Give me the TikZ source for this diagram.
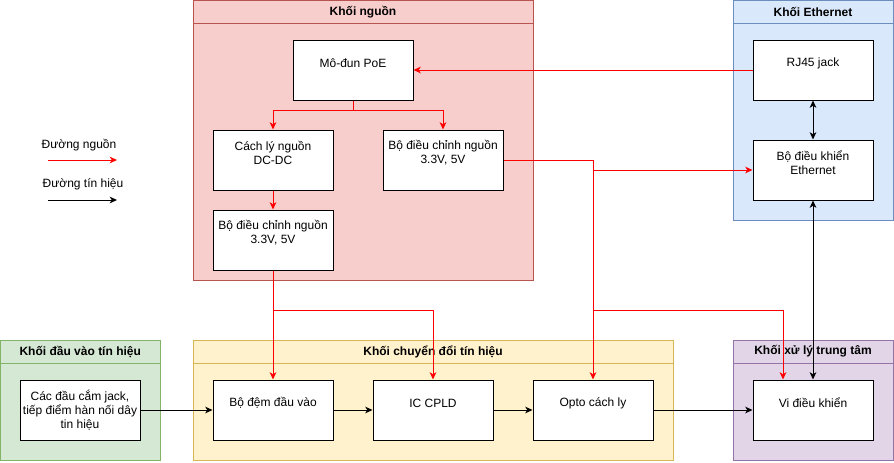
\documentclass[tikz,border=0pt]{standalone}
\usepackage{fontspec}
\setmainfont{Liberation Sans}
\usepackage{tikz}
\usetikzlibrary{arrows.meta}
\definecolor{pwrred}{HTML}{FF0000}
\definecolor{nguonfill}{HTML}{F8CECC}
\definecolor{nguonline}{HTML}{B85450}
\definecolor{ethfill}{HTML}{DAE8FC}
\definecolor{ethline}{HTML}{6C8EBF}
\definecolor{infill}{HTML}{D5E8D4}
\definecolor{inline}{HTML}{82B366}
\definecolor{convfill}{HTML}{FFF2CC}
\definecolor{convline}{HTML}{D6B656}
\definecolor{cpufill}{HTML}{E1D5E7}
\definecolor{cpuline}{HTML}{9673A6}
\tikzset{
  blk/.style={draw, fill=white, line width=0.75pt, minimum width=90pt,
    minimum height=45pt, inner sep=0pt},
  txt/.style={align=center, inner sep=0pt, font=\fontsize{9}{10.5}\selectfont},
  head/.style={inner sep=0pt, font=\fontsize{9}{10.5}\selectfont\bfseries},
  tip/.style={Stealth[length=5.5pt, width=5pt, inset=1.6pt]},
  pwr/.style={draw=pwrred, line width=0.75pt, -{Stealth[length=5.5pt, width=5pt, inset=1.6pt]}},
  pline/.style={draw=pwrred, line width=0.75pt},
  sig/.style={draw=black, line width=0.75pt, -{Stealth[length=5.5pt, width=5pt, inset=1.6pt]}},
  sigboth/.style={draw=black, line width=0.75pt,
    {Stealth[length=5.5pt, width=5pt, inset=1.6pt]}-{Stealth[length=5.5pt, width=5pt, inset=1.6pt]}},
}
\newcommand*{\BlockBox}[5]{% #1 = name, #2 = x, #3 = y, #4 = text shift, #5 = text
\node [blk] (#1) at (#2,#3) {};
\node [txt] (#1-t) at ([yshift=#4]#1.center) {#5};
}
\newcommand*{\GroupBox}[7]{% #1 = name, #2/#3 = top left, #4/#5 = bottom right, #6 = colour, #7 = title
\draw [fill=#6fill, draw=#6line, line width=0.75pt] (#2,#3) rectangle (#4,#5);
\draw [draw=#6line, line width=0.75pt] (#2,#3+23) -- (#4,#3+23);
\node [head] (#1) at ({(#2+#4)/2},#3+11.5) {#7};
}

\begin{document}
\begin{tikzpicture}[x=0.75pt, y=-0.75pt]
\useasboundingbox (0,0) rectangle (894,462);

% groups
\GroupBox{gnguon}{193}{0.5}{533}{280}{nguon}{Khối nguồn}
\GroupBox{geth}{733}{0.5}{893}{220}{eth}{Khối Ethernet}
\GroupBox{gin}{0.5}{340}{160}{460}{in}{Khối đầu vào tín hiệu}
\GroupBox{gconv}{193}{340}{673}{460}{conv}{Khối chuyển đổi tín hiệu}
\GroupBox{gcpu}{733}{340}{893}{460}{cpu}{Khối xử lý trung tâm}

% blocks
\BlockBox{poe}{353}{70}{5.25pt}{Mô-đun PoE}
\BlockBox{iso}{273}{160}{5.25pt}{Cách lý nguồn\\DC-DC}
\BlockBox{regA}{443}{160}{5.25pt}{Bộ điều chỉnh nguồn\\3.3V, 5V}
\BlockBox{regB}{273}{240}{5.25pt}{Bộ điều chỉnh nguồn\\3.3V, 5V}
\BlockBox{rj}{813}{70}{5.25pt}{RJ45 jack}
\BlockBox{ethc}{813}{170}{5.25pt}{Bộ điều khiển\\Ethernet}
\BlockBox{jack}{80}{410}{0pt}{Các đầu cắm jack,\\tiếp điểm hàn nối dây\\tin hiệu}
\BlockBox{buf}{273}{410}{5.25pt}{Bộ đệm đầu vào}
\BlockBox{cpld}{433}{410}{5.25pt}{IC CPLD}
\BlockBox{opto}{593}{410}{5.25pt}{Opto cách ly}
\BlockBox{mcu}{813}{410}{5.25pt}{Vi điều khiển}

% legend
\node [txt] (leg1) at (79,145) {Đường nguồn};
\node [txt] (leg2) at (83,184) {Đường tín hiệu};
\coordinate (la1) at (48,160);
\coordinate (lb1) at (117,160);
\coordinate (la2) at (48,200);
\coordinate (lb2) at (117,200);
\draw [pwr] (la1) -- (lb1);
\draw [sig] (la2) -- (lb2);

% power lines
\coordinate (j1) at (593,160);
\coordinate (j2) at (593,310);
\coordinate (j3) at (273,310);
\draw [pwr] (rj.west) -- (poe.east);
\draw [pwr] (poe.south) -- ++(0,10) -| (iso.north);
\draw [pwr] (poe.south) -- ++(0,10) -| (regA.north);
\draw [pwr] (iso.south) -- (regB.north);
\draw [pline] (regA.east) -- (j1);
\draw [pwr] (j1) |- (ethc.west);
\draw [pwr] (j1) -- (opto.north);
\draw [pwr] (j2) -| ([xshift=-22.5pt]mcu.north);
\draw [pwr] (regB.south) -- (buf.north);
\draw [pwr] (j3) -| (cpld.north);

% signal lines
\draw [sigboth] (rj.south) -- (ethc.north);
\draw [sigboth] (ethc.south) -- (mcu.north);
\foreach \a/\b in {jack/buf, buf/cpld, cpld/opto, opto/mcu} {
\draw [sig] (\a.east) -- (\b.west);
}
\end{tikzpicture}
\end{document}
